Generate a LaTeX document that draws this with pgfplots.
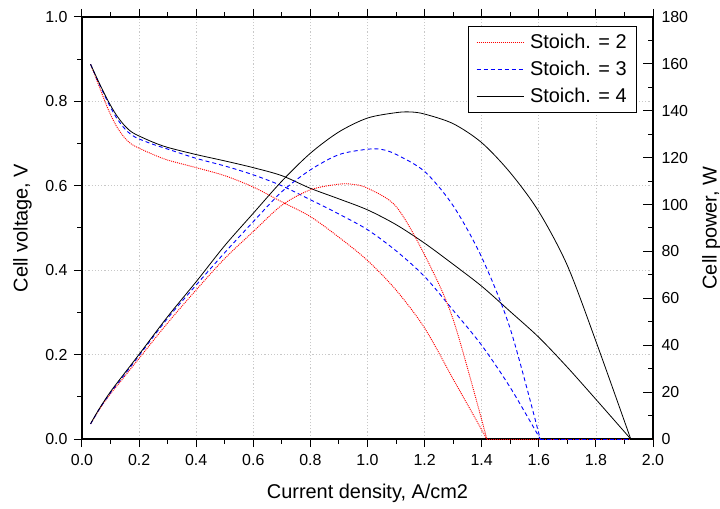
\documentclass[border=0pt]{standalone}
\usepackage{fontspec}
\setmainfont{Liberation Sans}
\usepackage{pgfplots}
\pgfplotsset{compat=1.18}
\definecolor{gridgray}{RGB}{200,200,200}
\pgfplotsset{
  common/.style={
    scale only axis, width=571bp, height=422bp,
    xmin=0, xmax=2,
    /pgf/number format/assume math mode=true,
    tick label style={font=\fontsize{16}{18}\selectfont},
    label style={font=\fontsize{20}{24}\selectfont},
    axis line style={line width=1.2bp},
    every tick/.style={line width=1bp, black},
    major tick length=8bp, minor tick length=4.5bp,
  },
  s2/.style={draw=red, color=red, line width=0.9bp, dash pattern=on 1bp off 1bp},
  s3/.style={draw=blue, color=blue, line width=0.9bp, dash pattern=on 4bp off 3bp},
  s4/.style={draw=black, color=black, line width=0.8bp},
}
\begin{document}
\begin{tikzpicture}
\begin{axis}[common, name=ax,
  ymin=0, ymax=1,
  xtick={0,0.2,0.4,0.6,0.8,1.0,1.2,1.4,1.6,1.8,2.0},
  ytick={0,0.2,0.4,0.6,0.8,1.0},
  minor x tick num=1, minor y tick num=1,
  xtick pos=both, xticklabel pos=bottom, ytick pos=left,
  tick align=outside,
  xticklabel style={/pgf/number format/.cd, fixed, fixed zerofill, precision=1, /tikz/yshift=-4bp},
  yticklabel style={/pgf/number format/.cd, fixed, fixed zerofill, precision=1, /tikz/xshift=-3bp},
  grid=major,
  major grid style={gridgray, line width=0.8bp, dash pattern=on 1.2bp off 2bp},
  xlabel={Current density, A/cm2},
  ylabel={Cell voltage, V},
  xlabel style={at={(rel axis cs:0.5,0)}, anchor=north, inner sep=0pt, yshift=-45bp},
  ylabel style={at={(rel axis cs:0,0.5)}, anchor=north, inner sep=0pt, yshift=69bp},
]
% voltage, stoich 2
\addplot[s2, smooth] coordinates {
(0.03,0.888) (0.06,0.836) (0.09,0.784) (0.12,0.742) (0.15,0.713) (0.175,0.698) (0.2,0.689)
(0.25,0.674) (0.3,0.661) (0.4,0.643) (0.5,0.624) (0.6,0.597) (0.7,0.562)
(0.8,0.527) (0.9,0.478) (1.0,0.423) (1.1,0.353) (1.2,0.263) (1.3,0.142)
(1.35,0.082) (1.418,0)};
\addplot[s2] coordinates {(1.418,0) (2.0,0)};
% voltage, stoich 3
\addplot[s3, smooth] coordinates {
(0.03,0.888) (0.06,0.842) (0.09,0.799) (0.12,0.762) (0.15,0.735) (0.175,0.720) (0.2,0.711)
(0.25,0.698) (0.3,0.687) (0.4,0.665) (0.5,0.647) (0.6,0.626) (0.7,0.600)
(0.8,0.567) (0.9,0.533) (1.0,0.496) (1.1,0.446) (1.2,0.385) (1.3,0.305)
(1.4,0.222) (1.5,0.122) (1.605,0)};
\addplot[s3] coordinates {(1.605,0) (2.0,0)};
% voltage, stoich 4
\addplot[s4, smooth] coordinates {
(0.03,0.888) (0.06,0.844) (0.09,0.803) (0.12,0.768) (0.15,0.742) (0.175,0.727) (0.2,0.718)
(0.25,0.703) (0.3,0.691) (0.4,0.674) (0.5,0.659) (0.6,0.643) (0.7,0.624)
(0.8,0.594) (0.9,0.569) (1.0,0.543) (1.1,0.508) (1.2,0.464) (1.3,0.414)
(1.4,0.362) (1.5,0.302) (1.6,0.241) (1.7,0.170) (1.8,0.094) (1.922,0)};
\addplot[s4] coordinates {(1.922,0) (2.0,0)};
\end{axis}
\begin{axis}[common,
  ymin=0, ymax=180,
  axis x line=none, axis y line*=right,
  ytick={0,20,40,60,80,100,120,140,160,180},
  minor y tick num=1,
  tick align=inside,
  major tick length=10bp, minor tick length=5bp,
  yticklabel style={xshift=5bp},
  ylabel={Cell power, W},
  ylabel style={at={(rel axis cs:1,0.5)}, anchor=north, inner sep=0pt, yshift=-49bp},
  legend cell align=left,
  legend style={at={(1,1)}, anchor=north east, xshift=-16bp, yshift=-9bp,
    draw=black, line width=0.8bp, inner xsep=8bp, inner ysep=6bp,
    font=\fontsize{20}{24}\selectfont, row sep=7bp,
    /tikz/every odd column/.append style={column sep=4bp}},
  legend image code/.code={\draw[#1] (0bp,0bp) -- (47bp,0bp);},
]
\addplot[s2, smooth] coordinates {
(0.03,6.4) (0.06,12.5) (0.1,19.3) (0.15,26.8) (0.2,34.4) (0.3,49.5) (0.4,63.6) (0.5,77.0) (0.6,88.5)
(0.7,99.7) (0.8,106.3) (0.9,108.7) (0.95,108.6) (1.0,107.0) (1.1,99.2)
(1.2,78.5) (1.3,51.0) (1.418,0)};
\addlegendentry{Stoich. = 2}
\addplot[s3, smooth] coordinates {
(0.03,6.4) (0.06,12.6) (0.1,19.8) (0.15,27.6) (0.2,35.6) (0.3,51.5) (0.4,65.7) (0.5,79.5) (0.6,92.7)
(0.7,105.5) (0.8,114.8) (0.9,121.3) (1.0,123.6) (1.05,123.5) (1.1,121.4)
(1.2,114.1) (1.3,99.5) (1.4,77.5) (1.5,47.0) (1.605,0)};
\addlegendentry{Stoich. = 3}
\addplot[s4, smooth] coordinates {
(0.03,6.5) (0.06,12.8) (0.1,20.2) (0.15,28.2) (0.2,36.1) (0.3,52.2) (0.4,67.1) (0.5,82.5) (0.6,96.3)
(0.7,110.0) (0.8,121.9) (0.9,131.0) (1.0,136.9) (1.1,139.2) (1.15,139.5)
(1.2,138.6) (1.3,134.5) (1.4,126.4) (1.5,113.6) (1.6,97.0) (1.7,74.0)
(1.8,41.7) (1.922,0)};
\addlegendentry{Stoich. = 4}
\end{axis}
\pgfresetboundingbox
\path[use as bounding box] ([xshift=-82bp,yshift=-70bp]ax.south west) rectangle ([xshift=67bp,yshift=17bp]ax.north east);
\end{tikzpicture}
\end{document}
